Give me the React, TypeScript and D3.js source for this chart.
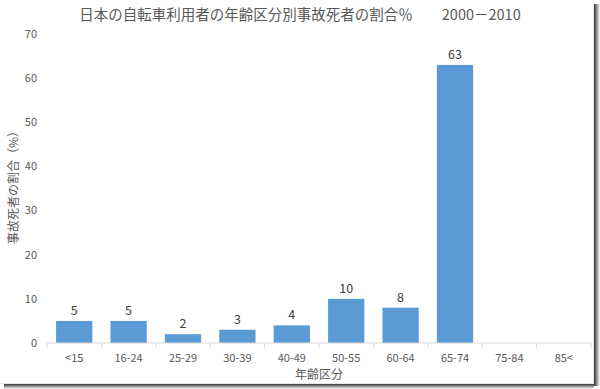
import React from "react";
import * as d3 from "d3";

const categories = ["<15", "16-24", "25-29", "30-39", "40-49", "50-55", "60-64", "65-74", "75-84", "85<"];
const values: (number | null)[] = [5, 5, 2, 3, 4, 10, 8, 63, null, null];
const yTicks = [0, 10, 20, 30, 40, 50, 60, 70];
const title = "日本の自転車利用者の年齢区分別事故死者の割合％　　2000－2010";
const yTitle = "事故死者の割合（%）";
const xTitle = "年齢区分";

const W = 600;
const H = 389;
const font = "'Noto Sans CJK JP', 'Noto Sans', sans-serif";

export default function App() {
  const m = { left: 47, right: 591, top: 34, bottom: 343 };
  const x = d3.scaleBand<string>().domain(categories).range([m.left, m.right]).paddingInner(1 / 3).paddingOuter(1 / 6);
  const xb = d3.scaleBand<string>().domain(categories).range([m.left, m.right]);
  const y = d3.scaleLinear().domain([0, 70]).range([m.bottom, m.top]);

  return (
    <svg width={W} height={H} style={{ position: "absolute", left: 0, top: 0, background: "#fff" }} fontFamily={font}>
      <defs>
        <linearGradient id="shR" x1="0" x2="1" y1="0" y2="0">
          <stop offset="0" stopColor="#333" />
          <stop offset="1" stopColor="#fff" />
        </linearGradient>
        <linearGradient id="shB" x1="0" x2="0" y1="0" y2="1">
          <stop offset="0" stopColor="#333" />
          <stop offset="1" stopColor="#fff" />
        </linearGradient>
      </defs>
      <rect x={0} y={0} width={W} height={H} fill="#fff" />
      <rect x={594} y={4} width={6} height={382} fill="url(#shR)" />
      <rect x={4} y={384} width={590} height={5} fill="url(#shB)" />
      <line x1={593.5} x2={593.5} y1={0} y2={384} stroke="#e6e6e6" />
      <line x1={0} x2={594} y1={383.5} y2={383.5} stroke="#e6e6e6" />
      <text x={300} y={20} textAnchor="middle" fontSize={14.5} fill="#595959">{title}</text>
      {yTicks.map((t) => (
        <text key={t} x={37} y={y(t)} dy="0.35em" textAnchor="end" fontSize={11} fill="#595959">{t}</text>
      ))}
      <text transform={`translate(14,${(m.top + m.bottom) / 2 - 4}) rotate(-90)`} textAnchor="middle" dy="0.35em" fontSize={12} fill="#595959">{yTitle}</text>
      {categories.map((c, i) => {
        const v = values[i];
        if (v == null) return null;
        return (
          <g key={c}>
            <rect x={x(c)!} y={y(v)} width={x.bandwidth()} height={y(0) - y(v)} fill="#5B9BD5" />
            <text x={x(c)! + x.bandwidth() / 2} y={y(v) - 6} textAnchor="middle" fontSize={12.5} fill="#404040">{v}</text>
          </g>
        );
      })}
      <line x1={m.left} x2={m.right} y1={y(0)} y2={y(0)} stroke="#d9d9d9" />
      {categories.map((c) => (
        <line key={"t" + c} x1={xb(c)!} x2={xb(c)!} y1={y(0)} y2={y(0) + 5} stroke="#d9d9d9" />
      ))}
      <line x1={m.right} x2={m.right} y1={y(0)} y2={y(0) + 5} stroke="#d9d9d9" />
      {categories.map((c) => (
        <text key={"l" + c} x={xb(c)! + xb.bandwidth() / 2} y={358} dy="0.35em" textAnchor="middle" fontSize={11} fill="#595959">{c}</text>
      ))}
      <text x={(m.left + m.right) / 2} y={375} dy="0.35em" textAnchor="middle" fontSize={12} fill="#595959">{xTitle}</text>
    </svg>
  );
}
